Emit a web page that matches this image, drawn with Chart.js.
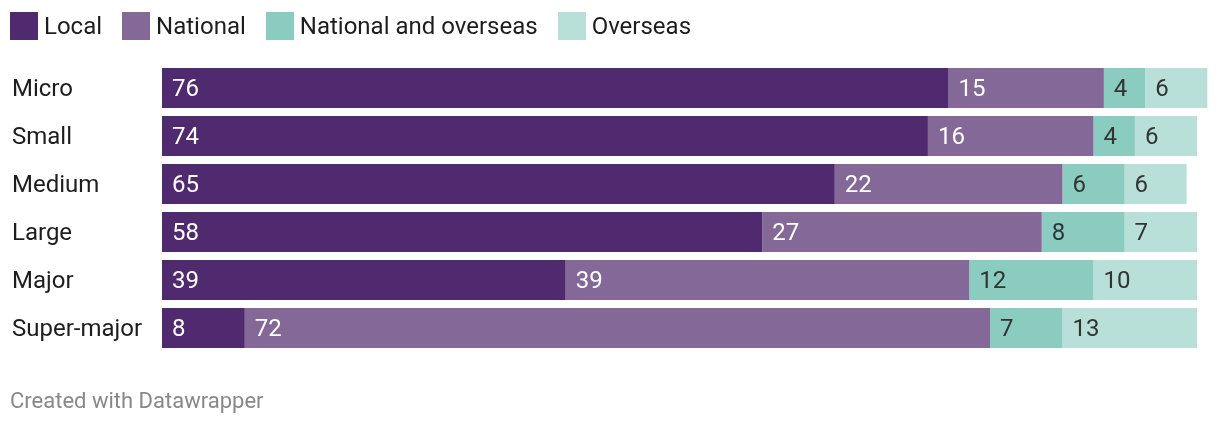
<!DOCTYPE html>
<html>
<head>
<meta charset="utf-8">
<script src="https://cdn.jsdelivr.net/npm/chart.js@4/dist/chart.umd.min.js"></script>
<style>
  html, body { margin: 0; padding: 0; background: #fff; }
  body { width: 1220px; height: 426px; position: relative; overflow: hidden; font-family: Roboto, sans-serif; }
  #legend { position: absolute; left: 10px; top: 12px; display: flex; align-items: center; font-size: 24px; line-height: 28px; color: #1d1d1d; }
  .item { display: flex; align-items: center; margin-right: 20px; }
  .swatch { width: 28px; height: 28px; margin-right: 6px; }
  #wrap { position: absolute; left: 0; top: 0; width: 1220px; height: 426px; }
  #footer { position: absolute; left: 10px; top: 388px; font-size: 22px; color: #888; }
</style>
</head>
<body>
<div id="wrap"><canvas id="chart"></canvas></div>
<div id="legend"></div>
<div id="footer">Created with Datawrapper</div>
<script>
const categories = ['Micro', 'Small', 'Medium', 'Large', 'Major', 'Super-major'];
const seriesNames = ['Local', 'National', 'National and overseas', 'Overseas'];
const localValues = [76, 74, 65, 58, 39, 8];
const nationalValues = [15, 16, 22, 27, 39, 72];
const nationalOverseasValues = [4, 4, 6, 8, 12, 7];
const overseasValues = [6, 6, 6, 7, 10, 13];

const colors = ['#502a6e', '#846898', '#8accc0', '#b8e0d8'];
const labelColors = ['#ffffff', '#ffffff', '#333333', '#333333'];

const legendEl = document.getElementById('legend');
seriesNames.forEach((name, i) => {
  const item = document.createElement('div');
  item.className = 'item';
  item.innerHTML = `<span class="swatch" style="background:${colors[i]}"></span><span>${name}</span>`;
  legendEl.appendChild(item);
});

const valueLabels = {
  id: 'valueLabels',
  afterDatasetsDraw(chart) {
    const ctx = chart.ctx;
    ctx.save();
    ctx.font = '24px Roboto';
    ctx.textBaseline = 'middle';
    ctx.textAlign = 'left';
    chart.data.datasets.forEach((ds, i) => {
      chart.getDatasetMeta(i).data.forEach((bar, j) => {
        const left = Math.min(bar.x, bar.base);
        ctx.fillStyle = labelColors[i];
        ctx.fillText(String(ds.data[j]), left + 10, bar.y + 2);
      });
    });
    ctx.restore();
  },
};

const allValues = [localValues, nationalValues, nationalOverseasValues, overseasValues];

new Chart(document.getElementById('chart'), {
  type: 'bar',
  data: {
    labels: categories,
    datasets: seriesNames.map((name, i) => ({
      label: name,
      data: allValues[i],
      backgroundColor: colors[i],
      borderWidth: 0,
      barPercentage: 1,
      categoryPercentage: 40 / 48,
    })),
  },
  options: {
    indexAxis: 'y',
    responsive: true,
    maintainAspectRatio: false,
    animation: false,
    layout: { padding: { left: 12, right: 2.3, top: 64, bottom: 74 } },
    plugins: {
      legend: { display: false },
      tooltip: { enabled: false },
    },
    scales: {
      x: {
        stacked: true,
        min: 0,
        max: 102,
        display: false,
      },
      y: {
        stacked: true,
        grid: { display: false },
        border: { display: false },
        ticks: {
          crossAlign: 'far',
          padding: 0,
          labelOffset: 2,
          color: '#1d1d1d',
          font: { family: 'Roboto', size: 24 },
        },
        afterFit(scale) { scale.width = 150; },
      },
    },
  },
  plugins: [valueLabels],
});
</script>
</body>
</html>
